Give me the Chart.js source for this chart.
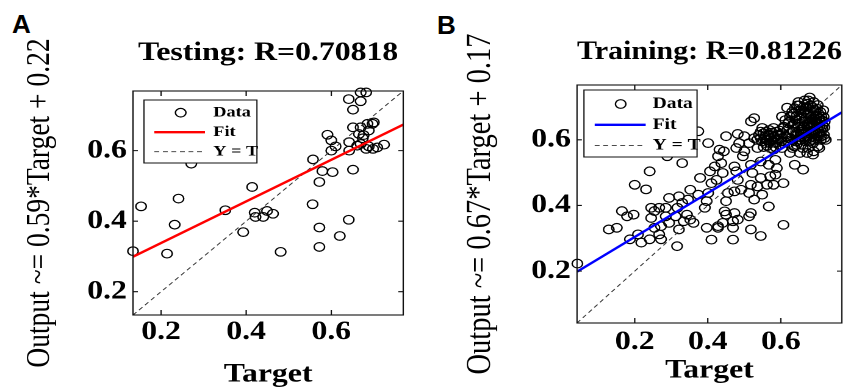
<!DOCTYPE html>
<html>
<head>
<meta charset="utf-8">
<script src="https://cdn.jsdelivr.net/npm/chart.js@4.4.1/dist/chart.umd.min.js"></script>
<style>
  body { margin: 0; background: #fff; width: 848px; height: 388px; overflow: hidden; position: relative; }
  .panel { position: absolute; top: 0; width: 348px; height: 388px; transform: scaleX(1.22); transform-origin: 0 0; }
  .panel canvas { display: block; }
  .tag { position: absolute; font: bold 26px "Liberation Sans", Arial, sans-serif; line-height: 1; color: #000; }
</style>
</head>
<body>
<div class="tag" style="left:12px;top:11px">A</div>
<div class="tag" style="left:437px;top:12px">B</div>
<div class="panel" style="left:0"><canvas id="testing-chart" width="348" height="388"></canvas></div>
<div class="panel" style="left:424px"><canvas id="training-chart" width="348" height="388"></canvas></div>
<script>
// Testing set: target vs network output
const testTarget = [0.134, 0.153, 0.214, 0.232, 0.241, 0.271, 0.351, 0.393, 0.414, 0.420, 0.422, 0.440, 0.449,
  0.463, 0.481, 0.557, 0.556, 0.572, 0.579, 0.572, 0.572, 0.591, 0.600, 0.600, 0.610, 0.603, 0.620, 0.642,
  0.642, 0.641, 0.651, 0.641, 0.651, 0.651, 0.669, 0.669, 0.682, 0.669, 0.665, 0.685, 0.697, 0.700, 0.688,
  0.676, 0.669, 0.661, 0.682, 0.698, 0.708, 0.724, 0.688, 0.674];
const testOutput = [0.315, 0.442, 0.308, 0.390, 0.464, 0.563, 0.431, 0.369, 0.497, 0.424, 0.412, 0.412, 0.429,
  0.421, 0.313, 0.575, 0.448, 0.511, 0.542, 0.382, 0.327, 0.645, 0.629, 0.600, 0.612, 0.539, 0.358, 0.624,
  0.600, 0.404, 0.546, 0.746, 0.716, 0.666, 0.740, 0.765, 0.765, 0.666, 0.647, 0.676, 0.676, 0.680, 0.657,
  0.644, 0.619, 0.614, 0.605, 0.605, 0.609, 0.617, 0.612, 0.635];

// Training set: target vs network output
const trainTarget = [
  // spread below 0.5
  0.043, 0.129, 0.151, 0.165, 0.179, 0.197, 0.187, 0.209, 0.218, 0.241, 0.200, 0.231, 0.241, 0.245, 0.245,
  0.254, 0.254, 0.267, 0.272, 0.272, 0.267, 0.285, 0.285, 0.294, 0.294, 0.289, 0.312, 0.317, 0.321, 0.330,
  0.316, 0.321, 0.330, 0.334, 0.343, 0.352, 0.361, 0.346, 0.352, 0.374, 0.379, 0.374, 0.401, 0.392, 0.397,
  0.401, 0.410, 0.406, 0.419, 0.424, 0.397, 0.410, 0.428, 0.428, 0.441, 0.446, 0.450, 0.450, 0.455, 0.473,
  0.491, 0.482, 0.478, 0.441, 0.437, 0.428, 0.432, 0.444, 0.450, 0.469, 0.469, 0.482, 0.469, 0.473, 0.473,
  0.496, 0.500, 0.478, 0.486, 0.482, 0.500, 0.513, 0.518, 0.522, 0.513, 0.518, 0.527, 0.513, 0.518, 0.518,
  0.545, 0.536, 0.545, 0.549, 0.567, 0.562, 0.580, 0.607, 0.571, 0.585, 0.589, 0.585, 0.567, 0.545, 0.607,
  0.638, 0.661,
  // upper middle
  0.518, 0.527, 0.527, 0.545, 0.549, 0.558, 0.536, 0.571, 0.580, 0.594, 0.580, 0.603, 0.603, 0.607,
  0.535, 0.540, 0.548, 0.552, 0.556, 0.560, 0.563, 0.566, 0.570, 0.573, 0.576, 0.578, 0.582, 0.586, 0.588,
  0.592, 0.595, 0.598, 0.601, 0.562, 0.585, 0.553,
  0.545, 0.558, 0.568, 0.575, 0.590, 0.597, 0.583, 0.572, 0.600, 0.605, 0.610, 0.560,
  // dense upper cluster
  0.679, 0.648, 0.617, 0.638, 0.661, 0.701, 0.719, 0.710, 0.688, 0.652, 0.625, 0.643,
  0.615, 0.618, 0.620, 0.622, 0.625, 0.628, 0.630, 0.632, 0.635, 0.637, 0.640, 0.642, 0.645, 0.647, 0.650,
  0.652, 0.654, 0.656, 0.658, 0.660, 0.662, 0.663, 0.665, 0.667, 0.668, 0.670, 0.672, 0.673, 0.675, 0.676,
  0.678, 0.680, 0.681, 0.683, 0.685, 0.686, 0.688, 0.689, 0.691, 0.693, 0.694, 0.696, 0.698, 0.700, 0.701,
  0.703, 0.705, 0.707, 0.709, 0.711, 0.713, 0.716, 0.718, 0.720, 0.723, 0.660, 0.672, 0.690, 0.705, 0.632,
  0.612, 0.608, 0.620, 0.645, 0.665, 0.690,
  0.622, 0.627, 0.631, 0.634, 0.638, 0.641, 0.644, 0.646, 0.649, 0.651, 0.653, 0.655, 0.657, 0.659, 0.661,
  0.663, 0.664, 0.666, 0.668, 0.669, 0.671, 0.673, 0.674, 0.676, 0.677, 0.679, 0.681, 0.682, 0.684, 0.686,
  0.687, 0.689, 0.691, 0.692, 0.694, 0.696, 0.697, 0.699, 0.701, 0.702, 0.704, 0.706, 0.708, 0.710, 0.712,
  0.714, 0.717, 0.719, 0.650, 0.675];
const trainOutput = [
  0.223, 0.327, 0.332, 0.383, 0.367, 0.372, 0.297, 0.312, 0.287, 0.297, 0.463, 0.449, 0.504, 0.362, 0.393,
  0.383, 0.332, 0.312, 0.297, 0.337, 0.393, 0.393, 0.367, 0.423, 0.347, 0.550, 0.367, 0.393, 0.428, 0.408,
  0.276, 0.327, 0.529, 0.352, 0.372, 0.357, 0.347, 0.418, 0.448, 0.433, 0.484, 0.626, 0.590, 0.393, 0.413,
  0.438, 0.468, 0.504, 0.519, 0.478, 0.332, 0.296, 0.332, 0.337, 0.347, 0.382, 0.372, 0.413, 0.438, 0.443,
  0.448, 0.478, 0.504, 0.499, 0.529, 0.550, 0.570, 0.565, 0.611, 0.296, 0.352, 0.357, 0.332, 0.377, 0.519,
  0.550, 0.565, 0.575, 0.590, 0.618, 0.611, 0.590, 0.524, 0.499, 0.438, 0.463, 0.418, 0.367, 0.377, 0.327,
  0.307, 0.458, 0.484, 0.433, 0.397, 0.463, 0.463, 0.468, 0.489, 0.494, 0.514, 0.539, 0.524, 0.534, 0.341,
  0.524, 0.509,
  0.656, 0.666, 0.605, 0.605, 0.636, 0.590, 0.575, 0.615, 0.636, 0.615, 0.570, 0.575, 0.671, 0.636,
  0.600, 0.615, 0.595, 0.620, 0.605, 0.625, 0.598, 0.612, 0.590, 0.605, 0.622, 0.598, 0.610, 0.590, 0.625,
  0.600, 0.585, 0.612, 0.595, 0.582, 0.578, 0.578,
  0.625, 0.612, 0.630, 0.595, 0.615, 0.628, 0.600, 0.575, 0.605, 0.620, 0.595, 0.600,
  0.729, 0.715, 0.698, 0.696, 0.681, 0.706, 0.638, 0.610, 0.555, 0.560, 0.560, 0.585,
  0.610, 0.630, 0.650, 0.590, 0.670, 0.620, 0.600, 0.645, 0.680, 0.580, 0.615, 0.660, 0.635, 0.600, 0.690,
  0.650, 0.620, 0.585, 0.670, 0.640, 0.700, 0.610, 0.655, 0.595, 0.685, 0.625, 0.645, 0.710, 0.575, 0.665,
  0.605, 0.690, 0.635, 0.655, 0.615, 0.700, 0.590, 0.675, 0.645, 0.625, 0.690, 0.605, 0.660, 0.640, 0.580,
  0.680, 0.620, 0.655, 0.600, 0.670, 0.635, 0.690, 0.615, 0.655, 0.600, 0.575, 0.560, 0.565, 0.575, 0.575,
  0.660, 0.640, 0.605, 0.705, 0.720, 0.715,
  0.655, 0.605, 0.685, 0.625, 0.650, 0.595, 0.675, 0.615, 0.640, 0.665, 0.600, 0.690, 0.630, 0.655, 0.620,
  0.680, 0.640, 0.605, 0.665, 0.700, 0.610, 0.640, 0.680, 0.625, 0.650, 0.595, 0.705, 0.670, 0.640, 0.625,
  0.660, 0.600, 0.685, 0.630, 0.655, 0.675, 0.620, 0.695, 0.650, 0.610, 0.665, 0.640, 0.685, 0.625, 0.660,
  0.645, 0.670, 0.605, 0.705, 0.720];

// Axis limits, regression coefficients [slope, intercept], tick positions
const testLimits = [0.134, 0.769];
const trainLimits = [0.042, 0.767];
const testFit = [0.59, 0.22];
const trainFit = [0.67, 0.17];
const tickValues = [0.2, 0.4, 0.6];

const SERIF = '"Liberation Serif", "Times New Roman", serif';

// closed box with inward tick marks on all four sides
const boxFrame = {
  id: 'boxFrame',
  afterDatasetsDraw(chart, args, opts) {
    const { ctx, chartArea: a, scales } = chart;
    ctx.save();
    ctx.strokeStyle = '#111';
    ctx.lineWidth = 1.1;
    ctx.setLineDash([]);
    ctx.strokeRect(a.left, a.top, a.right - a.left, a.bottom - a.top);
    ctx.beginPath();
    scales.x.ticks.forEach(t => {
      const px = scales.x.getPixelForValue(t.value);
      ctx.moveTo(px, a.bottom); ctx.lineTo(px, a.bottom - opts.len);
      ctx.moveTo(px, a.top); ctx.lineTo(px, a.top + opts.len);
    });
    scales.y.ticks.forEach(t => {
      const py = scales.y.getPixelForValue(t.value);
      ctx.moveTo(a.left, py); ctx.lineTo(a.left + opts.len * 0.8, py);
      ctx.moveTo(a.right, py); ctx.lineTo(a.right - opts.len * 0.8, py);
    });
    ctx.stroke();
    ctx.restore();
  }
};

// boxed legend in the upper left corner of the plot
const boxLegend = {
  id: 'boxLegend',
  afterDatasetsDraw(chart, args, o) {
    const { ctx, chartArea: a } = chart;
    const x0 = a.left + o.x, y0 = a.top + o.y;
    ctx.save();
    ctx.fillStyle = '#fff';
    ctx.fillRect(x0, y0, o.w, o.h);
    ctx.strokeStyle = '#111';
    ctx.lineWidth = 1;
    ctx.strokeRect(x0, y0, o.w, o.h);
    ctx.font = 'bold ' + o.size + 'px ' + SERIF;
    ctx.textBaseline = 'middle';
    chart.data.datasets.forEach((ds, i) => {
      const cy = y0 + o.firstRow + i * o.rowStep;
      ctx.save();
      if (ds.showLine) {
        ctx.strokeStyle = ds.borderColor;
        ctx.lineWidth = ds.borderWidth;
        ctx.setLineDash(ds.borderDash || []);
        ctx.beginPath();
        ctx.moveTo(x0 + o.lineFrom, cy);
        ctx.lineTo(x0 + o.lineTo, cy);
        ctx.stroke();
      } else {
        ctx.strokeStyle = ds.pointBorderColor;
        ctx.lineWidth = ds.pointBorderWidth;
        ctx.beginPath();
        ctx.arc(x0 + o.markX, cy, ds.pointRadius, 0, Math.PI * 2);
        ctx.stroke();
      }
      ctx.restore();
      ctx.fillStyle = '#000';
      ctx.fillText(ds.label, x0 + o.textX, cy);
    });
    ctx.restore();
  }
};

function regressionChart(id, p) {
  const [lo, hi] = p.limits;
  const points = p.target.map((t, i) => ({ x: t, y: p.output[i] }));
  const fitLine = [lo, hi].map(t => ({ x: t, y: p.fit[0] * t + p.fit[1] }));
  const identity = [lo, hi].map(t => ({ x: t, y: t }));
  const tickFont = { family: SERIF, size: p.tickSize, weight: 'bold', lineHeight: 1.2 };

  return new Chart(document.getElementById(id), {
    type: 'scatter',
    data: {
      datasets: [
        {
          label: 'Data', data: points, order: 3, clip: false,
          pointStyle: 'circle', pointRadius: 4.3, pointBorderWidth: 1.2,
          pointBorderColor: '#000', pointBackgroundColor: 'rgba(0,0,0,0)',
          borderColor: '#000', backgroundColor: 'rgba(0,0,0,0)'
        },
        {
          label: 'Fit', data: fitLine, order: 1, showLine: true, pointRadius: 0,
          borderColor: p.fitColor, borderWidth: 2.3
        },
        {
          label: 'Y = T', data: identity, order: 2, showLine: true, pointRadius: 0,
          borderColor: '#333', borderWidth: 0.9, borderDash: [4, 3]
        }
      ]
    },
    options: {
      responsive: false,
      devicePixelRatio: 2,
      animation: false,
      events: [],
      layout: { padding: { left: 0, right: p.padRight, top: 0, bottom: 0 } },
      scales: {
        x: {
          type: 'linear', min: lo, max: hi,
          grid: { display: false, drawTicks: false }, border: { display: false },
          afterBuildTicks: s => { s.ticks = tickValues.map(v => ({ value: v })); },
          afterFit: s => { s.height = p.xAxisHeight; },
          ticks: { color: '#000', padding: p.xTickPad, maxRotation: 0, font: tickFont,
                   callback: v => v.toFixed(1) },
          title: {
            display: true, text: 'Target', color: '#000',
            font: { family: SERIF, size: 26, weight: 'bold', lineHeight: 1 },
            padding: { top: 0, bottom: p.xTitlePad }
          }
        },
        y: {
          type: 'linear', min: lo, max: hi,
          grid: { display: false, drawTicks: false }, border: { display: false },
          afterBuildTicks: s => { s.ticks = tickValues.map(v => ({ value: v })); },
          afterFit: s => { s.width = p.yAxisWidth; },
          ticks: { color: '#000', padding: 5, font: tickFont, callback: v => v.toFixed(1) },
          title: {
            display: true, text: p.yTitle, color: '#000',
            font: { family: SERIF, size: p.yTitleSize, weight: 'normal', lineHeight: 1.2 },
            padding: { top: p.yTitlePad, bottom: 0 }
          }
        }
      },
      plugins: {
        legend: { display: false },
        tooltip: { enabled: false },
        title: {
          display: true, text: p.title, color: '#000', fullSize: false,
          font: { family: SERIF, size: 26, weight: 'bold', lineHeight: 1.2 },
          padding: { top: p.titleTop, bottom: p.titleBottom }
        },
        boxLegend: p.legend,
        boxFrame: { len: 5 }
      }
    },
    plugins: [boxLegend, boxFrame]
  });
}

regressionChart('testing-chart', {
  target: testTarget, output: testOutput, limits: testLimits, fit: testFit,
  fitColor: '#ff0000',
  title: 'Testing: R=0.70818',
  yTitle: 'Output ~= 0.59*Target + 0.22',
  padRight: 17.5, yAxisWidth: 109, xAxisHeight: 73,
  titleTop: 37.9, titleBottom: 21.9,
  tickSize: 26, xTickPad: 1.9, xTitlePad: 0,
  yTitleSize: 27.5, yTitlePad: 16.3,
  legend: { x: 9, y: 9, w: 92.6, h: 63, firstRow: 12.7, rowStep: 19.5,
            markX: 30.1, lineFrom: 8.5, lineTo: 50, textX: 56.8, size: 15 }
});

regressionChart('training-chart', {
  target: trainTarget, output: trainOutput, limits: trainLimits, fit: trainFit,
  fitColor: '#0000ff',
  title: 'Training: R=0.81226',
  yTitle: 'Output ~= 0.67*Target + 0.17',
  padRight: 1.3, yAxisWidth: 125.4, xAxisHeight: 65,
  titleTop: 36.9, titleBottom: 16.9,
  tickSize: 26, xTickPad: 3.9, xTitlePad: 4,
  yTitleSize: 28.5, yTitlePad: 29.6,
  legend: { x: 5.7, y: 5, w: 92.7, h: 67, firstRow: 14, rowStep: 20.8,
            markX: 30.1, lineFrom: 8.8, lineTo: 50.6, textX: 56.3, size: 16 }
});
</script>
</body>
</html>
